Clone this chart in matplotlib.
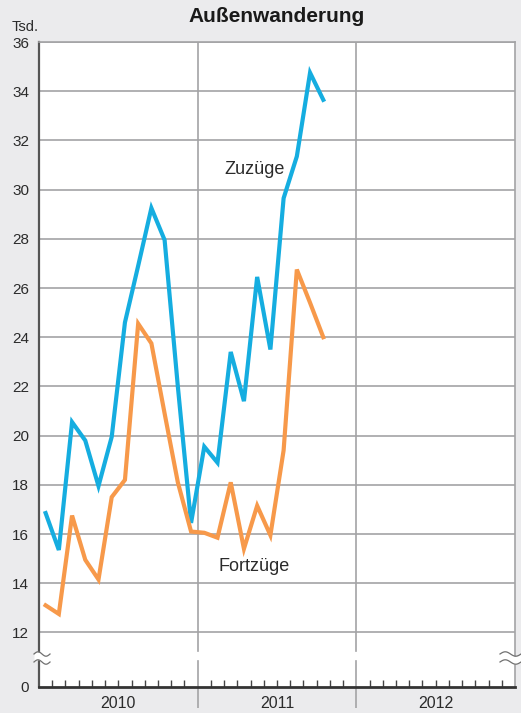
import numpy as np
import matplotlib
matplotlib.use('Agg')
import matplotlib.pyplot as plt
import matplotlib.transforms as mtransforms
from matplotlib.ticker import FixedLocator

plt.rcParams['font.family'] = ['Liberation Sans', 'DejaVu Sans']

# Monatswerte Jan 2010 - Okt 2011, in Tsd.
months = np.arange(22) + 0.5
zuzuege = [16.85, 15.35, 20.55, 19.8, 17.95, 19.95, 24.6, 26.9, 29.25, 27.95, 22.0, 16.45,
           19.55, 18.9, 23.4, 21.4, 26.45, 23.5, 29.65, 31.35, 34.75, 33.65]
fortzuege = [13.1, 12.75, 16.75, 14.95, 14.15, 17.5, 18.2, 24.55, 23.75, 20.9, 18.1, 16.1,
             16.05, 15.85, 18.1, 15.4, 17.15, 15.95, 19.4, 26.75, 25.4, 24.0]
years = ['2010', '2011', '2012']
yticks = list(range(12, 37, 2))

blue = '#15ade0'
orange = '#f7994a'
grid_c = '#a3a3a5'
txt_c = '#2b2b2b'

fig = plt.figure(figsize=(5.21, 7.13), dpi=100, facecolor='#ebebed')
ax = fig.add_axes([39/521, 1-687/713, 476/521, 645/713])
ax.set_facecolor('white')

ybot = 36 - 645/24.6
ax.set_xlim(0, 36)
ax.set_ylim(ybot, 36)

# horizontal grid
for v in yticks:
    ax.axhline(v, color=grid_c, lw=1.2, zorder=1)

# year separators, with gap at the axis break
gap_lo = 26/645
gap_hi = 36/645
for xb in [12, 24]:
    ax.axvline(xb, ymin=0, ymax=gap_lo, color=grid_c, lw=1.2, zorder=1)
    ax.axvline(xb, ymin=gap_hi, ymax=1, color=grid_c, lw=1.2, zorder=1)

ax.plot(months, zuzuege, color=blue, lw=3, solid_joinstyle='miter', zorder=3)
ax.plot(months, fortzuege, color=orange, lw=3, solid_joinstyle='miter', zorder=3)

ax.text((224-39)/13.222, 30.8, 'Zuzüge', fontsize=13, color=txt_c, va='center', ha='left')
ax.text((218-39)/13.222, 14.66, 'Fortzüge', fontsize=13, color=txt_c, va='center', ha='left')

# spines
ax.spines['left'].set_color('#555555')
ax.spines['left'].set_linewidth(1.6)
ax.spines['bottom'].set_color('#333333')
ax.spines['bottom'].set_linewidth(2)
ax.spines['top'].set_color(grid_c)
ax.spines['top'].set_linewidth(1.2)
ax.spines['right'].set_color(grid_c)
ax.spines['right'].set_linewidth(1.2)

# y ticks
ax.yaxis.set_major_locator(FixedLocator([ybot] + yticks))
ax.set_yticklabels(['0'] + [str(v) for v in yticks])
ax.tick_params(axis='y', length=0, pad=7, labelsize=11, labelcolor=txt_c)

# x ticks: year dividers below, months inside
ax.xaxis.set_major_locator(FixedLocator([12, 24]))
ax.xaxis.set_minor_locator(FixedLocator([m for m in range(1, 36) if m not in (12, 24)]))
ax.set_xticklabels([])
ax.tick_params(axis='x', which='major', direction='out', length=15, width=1.2, color=grid_c)
ax.tick_params(axis='x', which='minor', direction='in', length=5, width=1, color='#444444')

trans = mtransforms.blended_transform_factory(ax.transData, ax.transAxes)
for i, yr in enumerate(years):
    ax.text(6 + 12*i, -16/645, yr, transform=trans, ha='center', va='center',
            fontsize=11.5, color=txt_c)

# axis break marks
W, H = 476.0, 645.0
def wave(x0, x1, yc):
    xs = np.linspace(x0, x1, 40)
    ys = yc + 2.2*np.sin((xs - x0)/(x1 - x0)*2*np.pi)
    return xs/W, ys/H
for x0, x1 in [(-5, 11), (461, 482)]:
    xa, ya = wave(x0, x1, 33)
    xb, yb = wave(x0, x1, 25)
    ax.fill_between(xa, yb, ya, transform=ax.transAxes, color='white', clip_on=False, zorder=5, lw=0)
    ax.plot(xa, ya, transform=ax.transAxes, color='#707070', lw=0.9, clip_on=False, zorder=6)
    ax.plot(xb, yb, transform=ax.transAxes, color='#707070', lw=0.9, clip_on=False, zorder=6)

fig.text(277/521, 1-17/713, 'Außenwanderung', ha='center', va='center',
         fontsize=15, fontweight='bold', color='#1a1a1a')
fig.text(12/521, 1-27/713, 'Tsd.', ha='left', va='center', fontsize=10.5, color=txt_c)

fig.savefig('out.png', dpi=100, facecolor=fig.get_facecolor())
